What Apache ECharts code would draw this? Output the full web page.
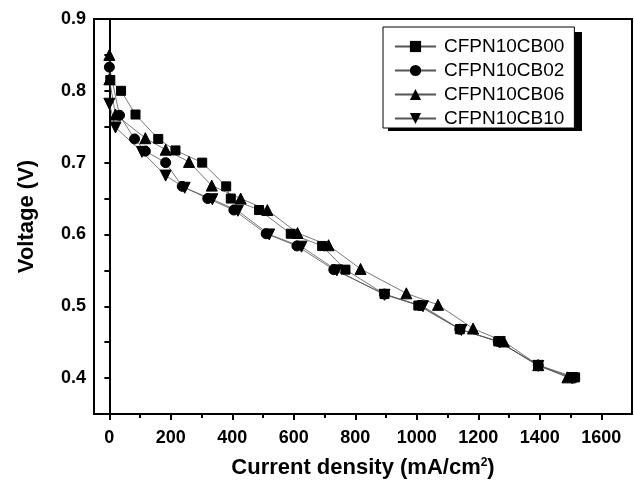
<!DOCTYPE html>
<html><head><meta charset="utf-8">
<script src="https://cdn.jsdelivr.net/npm/echarts@6/dist/echarts.min.js"></script>
<style>html,body{margin:0;padding:0;background:#fff}#c{width:634px;height:488px}</style>
</head><body><div id="c"></div>
<script>
const seriesNames = ['CFPN10CB00', 'CFPN10CB02', 'CFPN10CB06', 'CFPN10CB10'];
const symbols = ['rect', 'circle', 'triangle', 'path://M0,0 L10,0 L5,10 Z'];
const cb00 = [[3,0.815],[38,0.800],[85,0.767],[159,0.733],[215,0.717],[302,0.700],[380,0.667],[395,0.650],[487,0.634],[590,0.601],[692,0.584],[768,0.551],[895,0.517],[1005,0.501],[1140,0.468],[1265,0.451],[1395,0.418],[1515,0.401]];
const cb02 = [[0,0.833],[33,0.766],[82,0.733],[117,0.716],[183,0.700],[237,0.667],[320,0.650],[405,0.634],[510,0.601],[610,0.584],[730,0.551],[895,0.517],[1010,0.501],[1140,0.468],[1265,0.451],[1395,0.418],[1510,0.400]];
const cb06 = [[0,0.850],[0,0.816],[20,0.767],[117,0.734],[183,0.718],[259,0.701],[333,0.668],[427,0.650],[514,0.634],[612,0.602],[713,0.585],[817,0.552],[966,0.518],[1069,0.502],[1183,0.469],[1283,0.451],[1395,0.418],[1490,0.401]];
const cb10 = [[0,0.782],[20,0.749],[106,0.715],[183,0.682],[245,0.665],[335,0.649],[418,0.633],[520,0.600],[625,0.583],[740,0.550],[895,0.516],[1020,0.500],[1145,0.467],[1270,0.450],[1395,0.417],[1505,0.400]];
const allData = [cb00, cb02, cb06, cb10];
const xMajorTicks = [0,200,400,600,800,1000,1200,1400,1600];
const xMinorTicks = [100,300,500,700,900,1100,1300,1500];
const yLabels = [0.4,0.5,0.6,0.7,0.8,0.9];
const yTicks = [0.35,0.4,0.45,0.5,0.55,0.6,0.65,0.7,0.75,0.8,0.85,0.9];

const FONT = '"Liberation Sans", Arial, sans-serif';
const symSizes = [9, 10, 11, 11];
const chart = echarts.init(document.getElementById('c'), null, {renderer: 'canvas'});
chart.setOption({
  animation: false,
  backgroundColor: '#fff',
  grid: {left: 94, right: 2, top: 19, bottom: 74, show: true, borderColor: '#000', borderWidth: 2, backgroundColor: 'transparent'},
  graphic: [{
    type: 'rect', z: 1, silent: true,
    shape: {x: 388, y: 32, width: 194, height: 99},
    style: {fill: '#000'}
  }],
  legend: {
    orient: 'vertical', left: 383, top: 27, z: 10,
    data: seriesNames,
    itemWidth: 41, itemHeight: 14, itemGap: 5,
    padding: [10, 10, 0, 11],
    backgroundColor: '#fff', borderColor: '#000', borderWidth: 1,
    textStyle: {fontFamily: FONT, fontSize: 19, color: '#000', padding: [0,0,0,3]}
  },
  xAxis: [{
    type: 'value', min: -50, max: 1700,
    name: 'Current density (mA/cm{sup|2})',
    nameLocation: 'middle', nameGap: 43,
    nameTextStyle: {fontFamily: FONT, fontSize: 22, fontWeight: 'bold', color: '#000',
      rich: {sup: {fontFamily: FONT, fontSize: 12, fontWeight: 'bold', verticalAlign: 'top', padding: [0,0,10,0]}}},
    axisLine: {show: true, lineStyle: {color: '#000', width: 2}},
    axisTick: {show: true, inside: false, length: 6, lineStyle: {color: '#000', width: 2}, customValues: xMajorTicks},
    axisLabel: {customValues: xMajorTicks, margin: 15, fontFamily: FONT, fontSize: 18, fontWeight: 'bold', color: '#000',
      formatter: v => String(v)},
    splitLine: {show: false}
  }, {
    type: 'value', min: -50, max: 1700, position: 'bottom',
    axisLine: {show: false},
    axisTick: {show: true, length: 4, lineStyle: {color: '#000', width: 2}, customValues: xMinorTicks},
    axisLabel: {show: false},
    splitLine: {show: false}
  }],
  yAxis: {
    type: 'value', min: 0.35, max: 0.9,
    name: 'Voltage (V)', nameLocation: 'middle', nameGap: 56,
    nameTextStyle: {fontFamily: FONT, fontSize: 22, fontWeight: 'bold', color: '#000'},
    axisLine: {show: true, lineStyle: {color: '#000', width: 2}},
    axisTick: {show: true, length: 5, lineStyle: {color: '#000', width: 2}, customValues: yTicks},
    axisLabel: {customValues: yLabels, margin: 8, fontFamily: FONT, fontSize: 18, fontWeight: 'bold', color: '#000',
      formatter: v => v.toFixed(1)},
    splitLine: {show: false}
  },
  series: seriesNames.map((n, i) => ({
    name: n, type: 'line', data: allData[i],
    symbol: symbols[i], symbolSize: symSizes[i],
    showAllSymbol: true,
    lineStyle: {color: '#555', width: 0.8},
    itemStyle: {color: '#000', borderColor: '#000'},
    emphasis: {disabled: true}
  }))
});
</script></body></html>
